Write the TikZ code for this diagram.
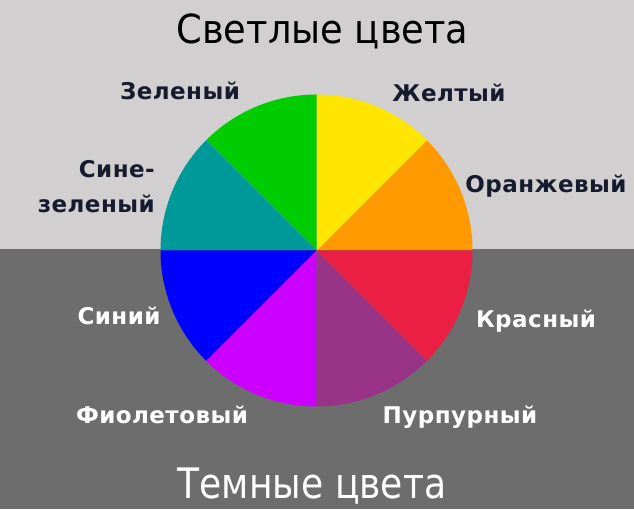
\documentclass[tikz,border=0pt]{standalone}
\usepackage{fontspec}
\setmainfont{DejaVu Sans}
\definecolor{bgtop}{HTML}{D1CFCF}
\definecolor{bgbot}{HTML}{6D6D6D}
\definecolor{cyellow}{HTML}{FFE600}
\definecolor{corange}{HTML}{FF9900}
\definecolor{cred}{HTML}{EB1E44}
\definecolor{cpurple}{HTML}{993388}
\definecolor{cviolet}{HTML}{CC00FF}
\definecolor{cblue}{HTML}{0000FF}
\definecolor{cteal}{HTML}{009999}
\definecolor{cgreen}{HTML}{00CC00}
\definecolor{navy}{HTML}{161B2E}
\begin{document}
\begin{tikzpicture}[x=1pt,y=1pt,
  lbl/.style={font=\fontsize{23}{27}\selectfont\bfseries\addfontfeature{LetterSpace=2},inner sep=0pt,anchor=base},
  lightlbl/.style={lbl,text=navy},
  darklbl/.style={lbl,text=white},
  title/.style={inner sep=0pt,anchor=base,transform shape}]
\useasboundingbox (0,0) rectangle (634,509);
\fill[bgtop] (0,259.5) rectangle (634,509);
\fill[bgbot] (0,0) rectangle (634,259.5);
\coordinate (c) at (316.5,258.5);
\def\R{156}
\fill[corange] (c) -- ++(0:\R) arc[start angle=0,end angle=45,radius=\R] -- cycle;
\fill[cyellow] (c) -- ++(45:\R) arc[start angle=45,end angle=90,radius=\R] -- cycle;
\fill[cgreen] (c) -- ++(90:\R) arc[start angle=90,end angle=135,radius=\R] -- cycle;
\fill[cteal] (c) -- ++(135:\R) arc[start angle=135,end angle=180,radius=\R] -- cycle;
\fill[cblue] (c) -- ++(180:\R) arc[start angle=180,end angle=225,radius=\R] -- cycle;
\fill[cviolet] (c) -- ++(225:\R) arc[start angle=225,end angle=270,radius=\R] -- cycle;
\fill[cpurple] (c) -- ++(270:\R) arc[start angle=270,end angle=315,radius=\R] -- cycle;
\fill[cred] (c) -- ++(315:\R) arc[start angle=315,end angle=360,radius=\R] -- cycle;
\begin{scope}[shift={(322.5,465)},xscale=0.92]
\node[title,text=black,font=\fontsize{40}{46}\selectfont] (tlight) at (0,0) {Светлые цвета};
\end{scope}
\begin{scope}[shift={(312,11)},xscale=0.86]
\node[title,text=white,font=\fontsize{42}{48}\selectfont] (tdark) at (0,0) {Темные цвета};
\end{scope}
\node[lightlbl] (green) at (180,409) {Зеленый};
\node[lightlbl] (yellow) at (449,407) {Желтый};
\node[lightlbl] (orange) at (546,316) {Оранжевый};
\node[lightlbl,anchor=base east] (teal1) at (155,331) {Сине-};
\node[lightlbl,anchor=base east] (teal2) at (155,296) {зеленый};
\node[darklbl] (blue) at (119,184) {Синий};
\node[darklbl] (red) at (536,182) {Красный};
\node[darklbl] (violet) at (162,86) {Фиолетовый};
\node[darklbl] (purple) at (460,86) {Пурпурный};
\end{tikzpicture}
\end{document}
